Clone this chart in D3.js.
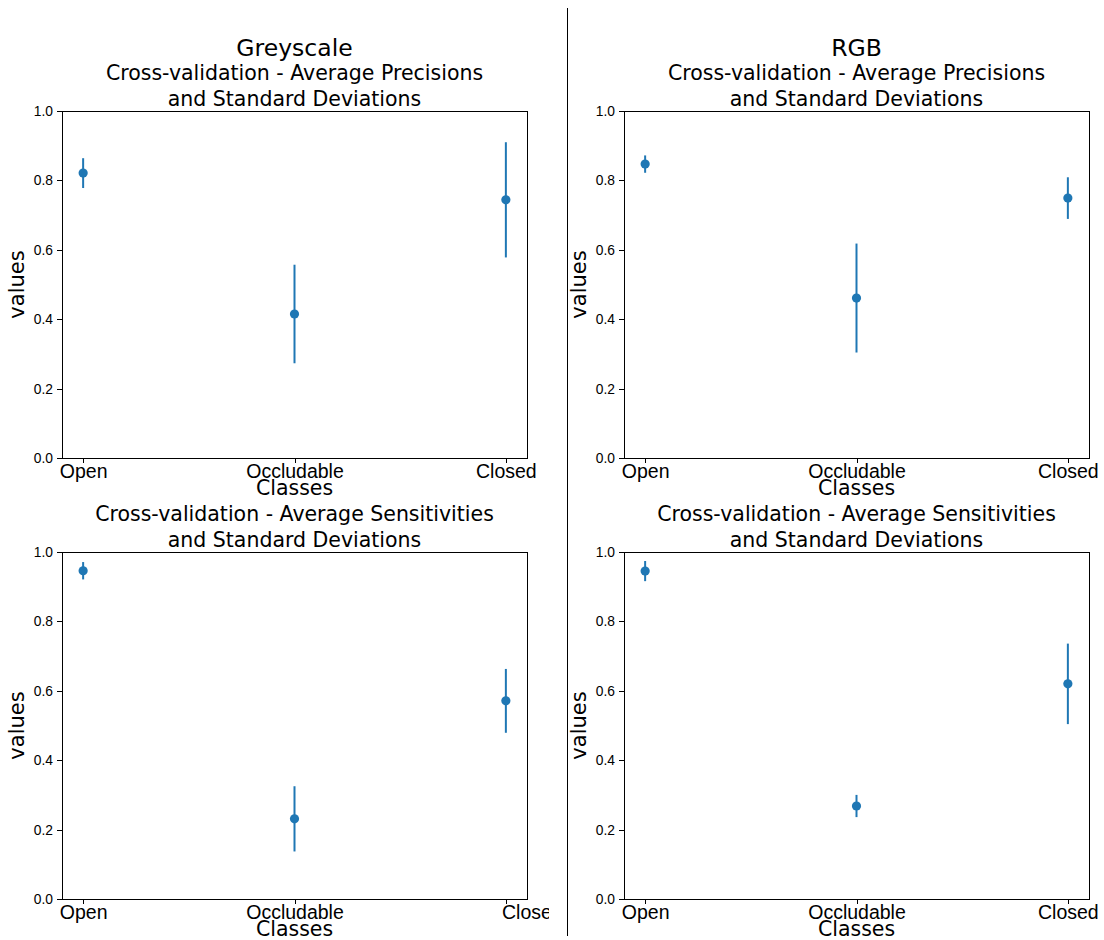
<!DOCTYPE html>
<meta charset="utf-8">
<style>
body { margin: 0; background: #fff; }
svg { font-family: "DejaVu Sans", sans-serif; }
.axis path, .axis line { stroke: #000; stroke-width: 1px; shape-rendering: crispEdges; }
.axis--y text { font-size: 13.8px; fill: #000; }
.axis--x text { font-size: 19.5px; fill: #000; }
.spine { fill: none; stroke: #000; stroke-width: 1px; shape-rendering: crispEdges; }
</style>
<body>
<div id="chart"></div>
<script src="https://d3js.org/d3.v7.min.js"></script>
<script>
// categories and tick labels
var classes = ["Open", "Occludable", "Closed"];
var yTicks = [0.0, 0.2, 0.4, 0.6, 0.8, 1.0];

// greyscale
var greyPrecMean = [0.821, 0.415, 0.744];
var greyPrecStd  = [0.043, 0.142, 0.166];
var greySensMean = [0.946, 0.231, 0.571];
var greySensStd  = [0.025, 0.094, 0.092];

// rgb
var rgbPrecMean = [0.847, 0.461, 0.749];
var rgbPrecStd  = [0.025, 0.157, 0.060];
var rgbSensMean = [0.945, 0.268, 0.620];
var rgbSensStd  = [0.029, 0.032, 0.116];

var blue = "#1f77b4";

var svg = d3.select("#chart").append("svg")
    .attr("width", 1104)
    .attr("height", 940);

// left half is cut off a bit after the last panel
svg.append("clipPath").attr("id", "clipLeft")
    .append("rect").attr("x", 0).attr("y", 0).attr("width", 549).attr("height", 940);

var leftHalf = svg.append("g").attr("clip-path", "url(#clipLeft)");
var rightHalf = svg.append("g");

// divider
svg.append("line")
    .attr("x1", 567.5).attr("x2", 567.5)
    .attr("y1", 8).attr("y2", 936)
    .attr("stroke", "#000").attr("stroke-width", 1);

function drawPanel(parent, cfg) {
    var w = 465, h = 347;
    var g = parent.append("g")
        .attr("transform", "translate(" + cfg.left + "," + cfg.top + ")");

    var x = d3.scaleLinear().domain([-0.1, 2.1]).range([0, w]);
    var y = d3.scaleLinear().domain([0, 1]).range([h, 0]);

    var yAxis = d3.axisLeft(y).tickValues(yTicks).tickFormat(d3.format(".1f")).tickSize(5).tickPadding(4);
    var xAxis = d3.axisBottom(x).tickValues([0, 1, 2])
        .tickFormat(function(d) { return classes[d]; }).tickSize(5).tickPadding(1);

    g.append("g").attr("class", "axis axis--y").call(yAxis)
        .select(".domain").remove();
    var xa = g.append("g").attr("class", "axis axis--x")
        .attr("transform", "translate(0," + h + ")").call(xAxis);
    xa.select(".domain").remove();
    if (cfg.lastDx) {
        xa.selectAll(".tick text").filter(function(d) { return d === 2; })
            .attr("dx", cfg.lastDx);
    }

    g.append("rect").attr("class", "spine")
        .attr("x", 0).attr("y", 0).attr("width", w).attr("height", h);

    var pts = cfg.mean.map(function(m, i) { return { i: i, m: m, s: cfg.std[i] }; });

    g.selectAll(".err").data(pts).enter().append("line")
        .attr("class", "err")
        .attr("x1", function(d) { return x(d.i); })
        .attr("x2", function(d) { return x(d.i); })
        .attr("y1", function(d) { return y(d.m - d.s); })
        .attr("y2", function(d) { return y(d.m + d.s); })
        .attr("stroke", blue).attr("stroke-width", 2);

    g.selectAll(".dot").data(pts).enter().append("circle")
        .attr("class", "dot")
        .attr("cx", function(d) { return x(d.i); })
        .attr("cy", function(d) { return y(d.m); })
        .attr("r", 4.6)
        .attr("fill", blue);

    // titles
    var cx = w / 2;
    if (cfg.suptitle) {
        g.append("text").attr("x", cx).attr("y", -55)
            .attr("text-anchor", "middle").style("font-size", "23.5px")
            .text(cfg.suptitle);
    }
    g.append("text").attr("x", cx).attr("y", -31)
        .attr("text-anchor", "middle").style("font-size", "20.5px")
        .text(cfg.title[0]);
    g.append("text").attr("x", cx).attr("y", -5)
        .attr("text-anchor", "middle").style("font-size", "20.5px")
        .text(cfg.title[1]);

    g.append("text").attr("x", cx).attr("y", h + 37)
        .attr("text-anchor", "middle").style("font-size", "20.5px")
        .text("Classes");

    g.append("text")
        .attr("transform", "translate(" + (cfg.ylabelX - cfg.left) + "," + (h / 2) + ") rotate(-90)")
        .attr("text-anchor", "middle").style("font-size", "21px")
        .text("values");
}

drawPanel(leftHalf, {
    left: 62, top: 111, mean: greyPrecMean, std: greyPrecStd,
    suptitle: "Greyscale",
    title: ["Cross-validation - Average Precisions", "and Standard Deviations"],
    ylabelX: 24
});
drawPanel(leftHalf, {
    left: 62, top: 552, mean: greySensMean, std: greySensStd,
    title: ["Cross-validation - Average Sensitivities", "and Standard Deviations"],
    ylabelX: 24, lastDx: 26
});
drawPanel(rightHalf, {
    left: 624, top: 111, mean: rgbPrecMean, std: rgbPrecStd,
    suptitle: "RGB",
    title: ["Cross-validation - Average Precisions", "and Standard Deviations"],
    ylabelX: 586
});
drawPanel(rightHalf, {
    left: 624, top: 552, mean: rgbSensMean, std: rgbSensStd,
    title: ["Cross-validation - Average Sensitivities", "and Standard Deviations"],
    ylabelX: 586
});
</script>
</body>
